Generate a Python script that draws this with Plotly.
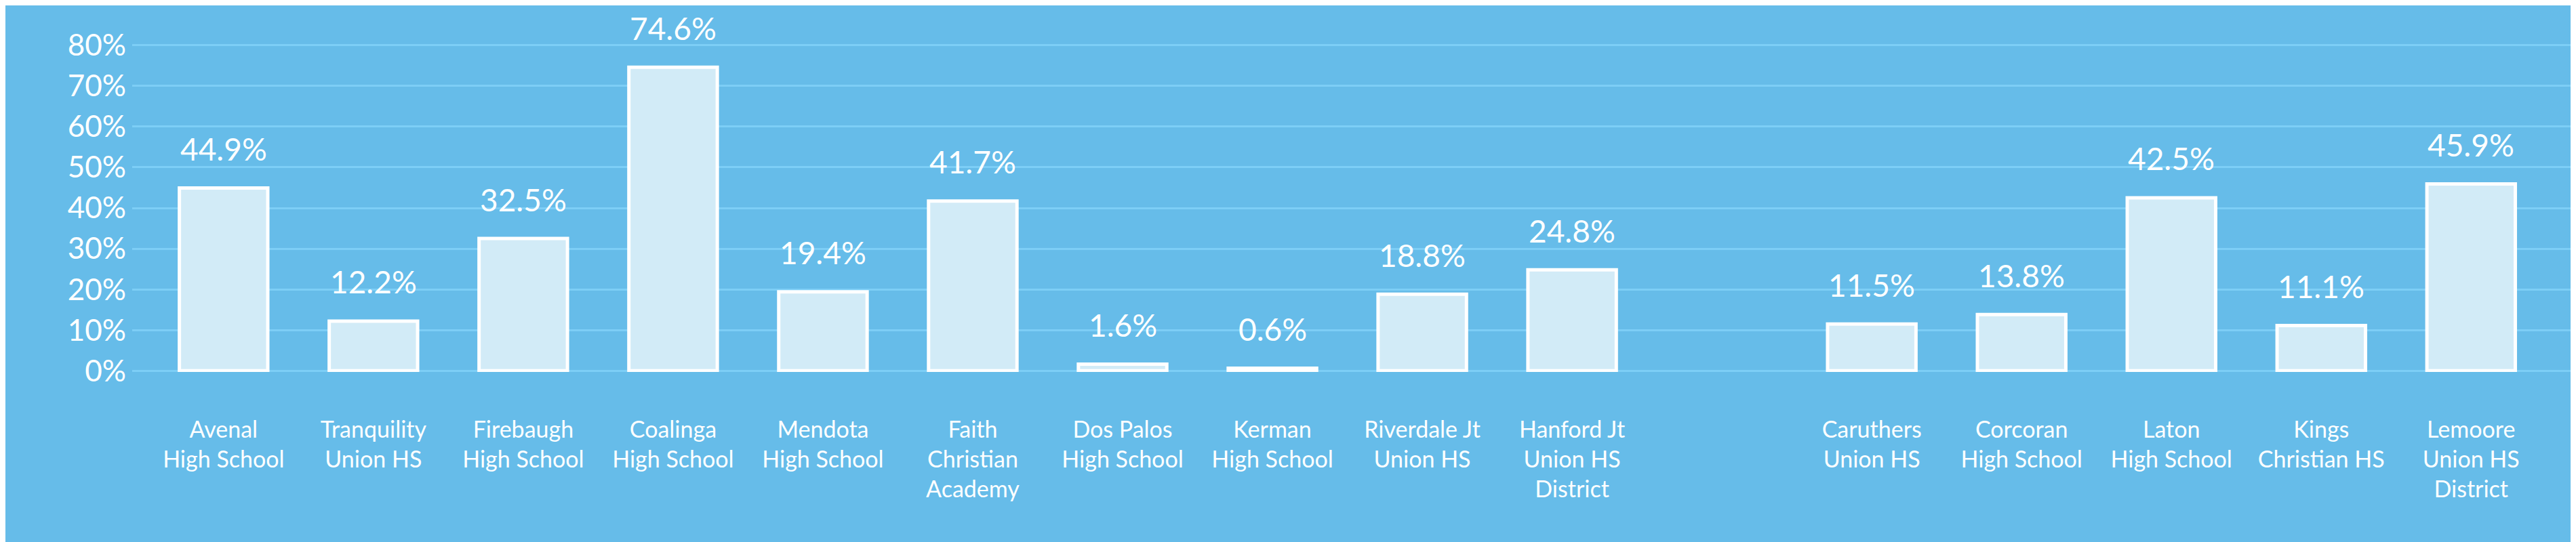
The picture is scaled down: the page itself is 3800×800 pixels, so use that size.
import plotly.graph_objects as go

# schools (blank slot separates the two groups)
schools = [
    'Avenal<br>High School', 'Tranquility<br>Union HS', 'Firebaugh<br>High School',
    'Coalinga<br>High School', 'Mendota<br>High School', 'Faith<br>Christian<br>Academy',
    'Dos Palos<br>High School', 'Kerman<br>High School', 'Riverdale Jt<br>Union HS',
    'Hanford Jt<br>Union HS<br>District', ' ',
    'Caruthers<br>Union HS', 'Corcoran<br>High School', 'Laton<br>High School',
    'Kings<br>Christian HS', 'Lemoore<br>Union HS<br>District',
]
pct = [44.9, 12.2, 32.5, 74.6, 19.4, 41.7, 1.6, 0.6, 18.8, 24.8, None,
       11.5, 13.8, 42.5, 11.1, 45.9]
y_ticks = [0, 10, 20, 30, 40, 50, 60, 70, 80]

bg = '#66bce9'
font = 'Lato, Open Sans, sans-serif'

fig = go.Figure()
fig.add_trace(go.Bar(
    x=schools, y=pct,
    width=0.59,
    marker=dict(color='#d2ebf7', line=dict(color='white', width=5)),
    hoverinfo='skip',
))

# value labels above the bars
for s, v in zip(schools, pct):
    if v is None:
        continue
    fig.add_annotation(
        x=s, y=v, text=f'{v:.1f}%', showarrow=False,
        yanchor='middle', yshift=58,
        font=dict(family=font, size=46, color='white'),
    )

# margins allow for the 8px default body margin of the page
fig.update_layout(
    width=3800, height=800,
    paper_bgcolor=bg, plot_bgcolor=bg,
    margin=dict(l=187, r=8, t=57, b=259),
    showlegend=False,
    xaxis=dict(
        type='category', categoryorder='array', categoryarray=schools,
        range=[-0.61, 15.7], showgrid=False, zeroline=False, showline=False,
        ticks='', ticklabelstandoff=62, automargin=False,
        tickfont=dict(family=font, size=34, color='white'),
    ),
    yaxis=dict(
        range=[-0.3, 80.3], tickvals=y_ticks,
        ticktext=[f'{t}%' for t in y_ticks],
        showgrid=True, gridcolor='#7dcef6', gridwidth=3,
        zeroline=False, showline=False, ticks='', ticklabelstandoff=8,
        automargin=False,
        tickfont=dict(family=font, size=44, color='white'),
    ),
)

fig.write_html('out.html')
